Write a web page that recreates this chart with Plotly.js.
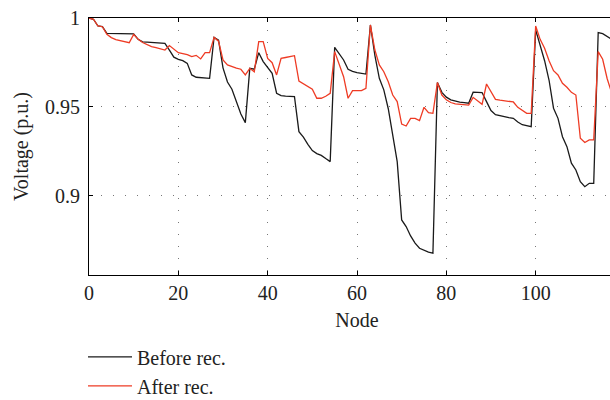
<!DOCTYPE html>
<html>
<head>
<meta charset="utf-8">
<script src="https://cdn.plot.ly/plotly-3.0.1.min.js"></script>
<style>
html,body{margin:0;padding:0;overflow:hidden;background:#fff;}
#chart{width:640px;height:440px;}
</style>
</head>
<body>
<div id="chart"></div>
<script>
const nodes = Array.from({length: 118}, (_, i) => i);
const beforeRec = [
1.0000,0.9993,0.9955,0.9951,0.9914,0.9914,0.9913,0.9912,0.9912,0.9912,
0.9911,0.9880,0.9866,0.9864,0.9862,0.9860,0.9859,0.9858,0.9820,0.9780,
0.9768,0.9760,0.9745,0.9680,0.9667,0.9664,0.9662,0.9661,0.9891,0.9875,
0.9720,0.9640,0.9600,0.9530,0.9460,0.9412,0.9717,0.9712,0.9805,0.9755,
0.9720,0.9689,0.9577,0.9564,0.9561,0.9559,0.9558,0.9361,0.9330,0.9290,
0.9255,0.9238,0.9228,0.9210,0.9193,0.9835,0.9800,0.9764,0.9712,0.9700,
0.9693,0.9689,0.9685,0.9961,0.9790,0.9661,0.9596,0.9490,0.9352,0.9193,
0.8865,0.8828,0.8775,0.8735,0.8706,0.8695,0.8684,0.8678,0.9637,0.9582,
0.9555,0.9540,0.9532,0.9527,0.9524,0.9521,0.9583,0.9582,0.9581,0.9530,
0.9480,0.9457,0.9450,0.9445,0.9440,0.9436,0.9415,0.9400,0.9395,0.9389,
0.9933,0.9840,0.9760,0.9650,0.9493,0.9436,0.9333,0.9277,0.9184,0.9146,
0.9080,0.9052,0.9071,0.9071,0.9918,0.9912,0.9895,0.9880
];
const afterRec = [
1.0000,0.9993,0.9955,0.9951,0.9908,0.9890,0.9878,0.9872,0.9866,0.9861,
0.9908,0.9880,0.9862,0.9850,0.9839,0.9833,0.9826,0.9820,0.9845,0.9825,
0.9805,0.9800,0.9794,0.9783,0.9790,0.9770,0.9805,0.9805,0.9891,0.9870,
0.9764,0.9736,0.9725,0.9718,0.9712,0.9680,0.9717,0.9698,0.9867,0.9867,
0.9773,0.9749,0.9680,0.9773,0.9778,0.9783,0.9788,0.9646,0.9630,0.9612,
0.9600,0.9549,0.9549,0.9560,0.9577,0.9811,0.9740,0.9670,0.9549,0.9592,
0.9592,0.9592,0.9605,0.9961,0.9820,0.9736,0.9698,0.9642,0.9567,0.9530,
0.9404,0.9393,0.9436,0.9436,0.9423,0.9498,0.9468,0.9464,0.9637,0.9567,
0.9540,0.9525,0.9517,0.9514,0.9512,0.9510,0.9554,0.9535,0.9515,0.9629,
0.9585,0.9543,0.9538,0.9535,0.9530,0.9528,0.9498,0.9480,0.9464,0.9464,
0.9955,0.9880,0.9830,0.9760,0.9704,0.9680,0.9633,0.9611,0.9582,0.9567,
0.9324,0.9300,0.9315,0.9315,0.9811,0.9768,0.9660,0.9580
];
const xTicks = [0, 20, 40, 60, 80, 100];
const yTicks = [0.9, 0.95, 1];
const yTickLabels = ['0.9', '0.95', '1'];

const fontFam = 'Liberation Serif, Times New Roman, serif';
const fsz = 20;
const gridDash = '1px,11px';

const traces = [
  {x: nodes, y: beforeRec, type: 'scatter', mode: 'lines', name: 'Before rec.',
   line: {color: '#1a1a1a', width: 1.3}},
  {x: nodes, y: afterRec, type: 'scatter', mode: 'lines', name: 'After rec.',
   line: {color: '#ee3b24', width: 1.3}}
];

const layout = {
  width: 640, height: 440,
  margin: {l: 89, r: 15, t: 18, b: 165},
  paper_bgcolor: '#fff', plot_bgcolor: '#fff',
  font: {family: fontFam, size: fsz, color: '#222'},
  showlegend: true,
  legend: {x: -0.0112, y: -0.243, xanchor: 'left', yanchor: 'top', orientation: 'v',
           font: {family: fontFam, size: fsz, color: '#222'}, bgcolor: 'rgba(0,0,0,0)',
           itemwidth: 44},
  xaxis: {
    range: [0, 120], tickvals: xTicks, ticks: 'inside', ticklen: 4, tickcolor: '#000',
    showline: true, linecolor: '#000', linewidth: 1, mirror: 'ticks',
    showgrid: true, gridcolor: '#777', gridwidth: 1, griddash: gridDash,
    zeroline: false, title: {text: 'Node', font: {family: fontFam, size: fsz, color: '#222'}, standoff: 9},
    tickfont: {family: fontFam, size: fsz, color: '#222'}
  },
  yaxis: {
    range: [0.85556, 1], tickvals: yTicks, ticktext: yTickLabels, ticks: 'inside', ticklen: 4, tickcolor: '#000',
    showline: true, linecolor: '#000', linewidth: 1, mirror: 'ticks',
    showgrid: true, gridcolor: '#777', gridwidth: 1, griddash: gridDash,
    zeroline: false, title: {text: 'Voltage (p.u.)', font: {family: fontFam, size: fsz, color: '#222'}, standoff: 11},
    ticklabelstandoff: 4,
    tickfont: {family: fontFam, size: fsz, color: '#222'}
  }
};

Plotly.newPlot('chart', traces, layout, {displayModeBar: false, staticPlot: true});
</script>
</body>
</html>
